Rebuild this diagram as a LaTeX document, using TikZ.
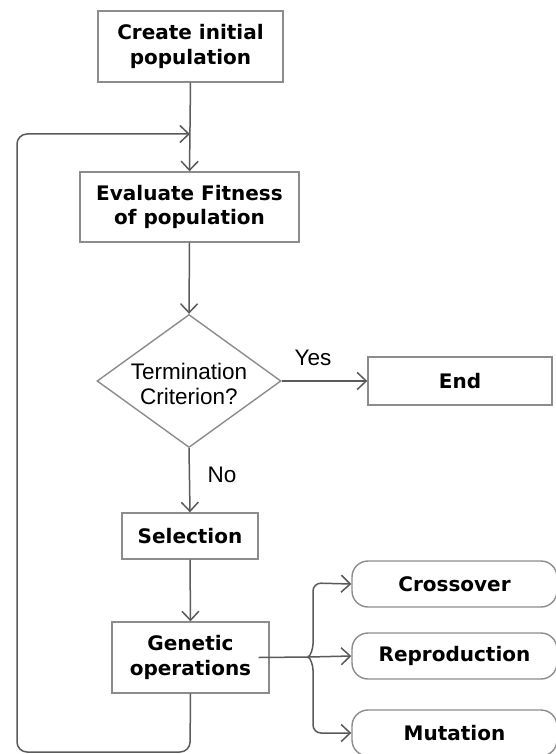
\documentclass[tikz,border=0pt]{standalone}
\usepackage{fontspec}
\setmainfont{DejaVu Sans}
\newfontfamily\regfont{Liberation Sans}
\usetikzlibrary{arrows.meta,shapes.geometric}
\definecolor{boxgray}{HTML}{8C8C8C}
\definecolor{linegray}{HTML}{5A5A5A}
\begin{document}
\begin{tikzpicture}[x=1pt,y=-1pt,
  box/.style={draw=boxgray,line width=1.4pt,inner sep=0pt,align=center,
    font=\fontsize{20}{24.5}\selectfont\bfseries},
  rbox/.style={box,rounded corners=16pt},
  lbl/.style={font=\fontsize{22.5}{25}\selectfont\regfont,align=center,inner sep=0pt},
  conn/.style={draw=linegray,line width=1.5pt,-{Straight Barb[length=9pt,width=17pt]}},
  plain/.style={draw=linegray,line width=1.5pt}]
\useasboundingbox (0,0) rectangle (556,754);
\clip (0,0) rectangle (556,754);
\fill[white] (0,0) rectangle (556,754);

\node[box,minimum width=185pt,minimum height=71pt] (create) at (190.5,46.5) {Create initial\\population};
\node[box,minimum width=219pt,minimum height=70pt] (eval) at (189.5,207) {Evaluate Fitness\\of population};
\node[diamond,draw=boxgray,line width=1.4pt,inner sep=0pt,minimum width=184pt,minimum height=133pt] (dia) at (189,381) {};
\node[lbl] (diatext) at (189,384) {Termination\\Criterion?};
\node[box,minimum width=184pt,minimum height=48pt] (end) at (460,381) {End};
\node[box,minimum width=136pt,minimum height=46pt] (sel) at (190,536) {Selection};
\node[box,minimum width=157pt,minimum height=71pt] (gen) at (190.5,657.5) {Genetic\\operations};
\node[rbox,minimum width=205pt,minimum height=46pt] (cross) at (454.5,584) {Crossover};
\node[rbox,minimum width=205pt,minimum height=46pt] (repro) at (454.5,656) {Reproduction};
\node[rbox,minimum width=205pt,minimum height=46pt] (mut) at (454.5,733) {Mutation};

\node[lbl] (yes) at (313,358) {Yes};
\node[lbl] (no) at (222,475) {No};

\coordinate (loopa) at (190,752);
\coordinate (loopb) at (17,752);
\coordinate (loopc) at (17,134);
\coordinate (loopd) at (190,134);
\coordinate (junc) at (309,657);
\coordinate (gout) at ([xshift=-11pt]gen.east);

\draw[conn] (create.south) -- (eval.north);
\draw[conn] (eval.south) -- (dia.north);
\draw[conn] (dia.east) -- (end.west);
\draw[conn] (dia.south) -- (sel.north);
\draw[conn] (sel.south) -- (gen.north);
\draw[conn,rounded corners=10pt] (gen.south) -- (loopa) -- (loopb) -- (loopc) -- (loopd);

\draw[plain] (gout) -- (junc);
\draw[conn] (junc) -- (repro.west);
\draw[conn,rounded corners=8pt] (junc) -- ++(4,-5) -- (313,583) -- (cross.west);
\draw[conn,rounded corners=8pt] (junc) -- ++(4,5) -- (313,733) -- (mut.west);
\end{tikzpicture}
\end{document}
